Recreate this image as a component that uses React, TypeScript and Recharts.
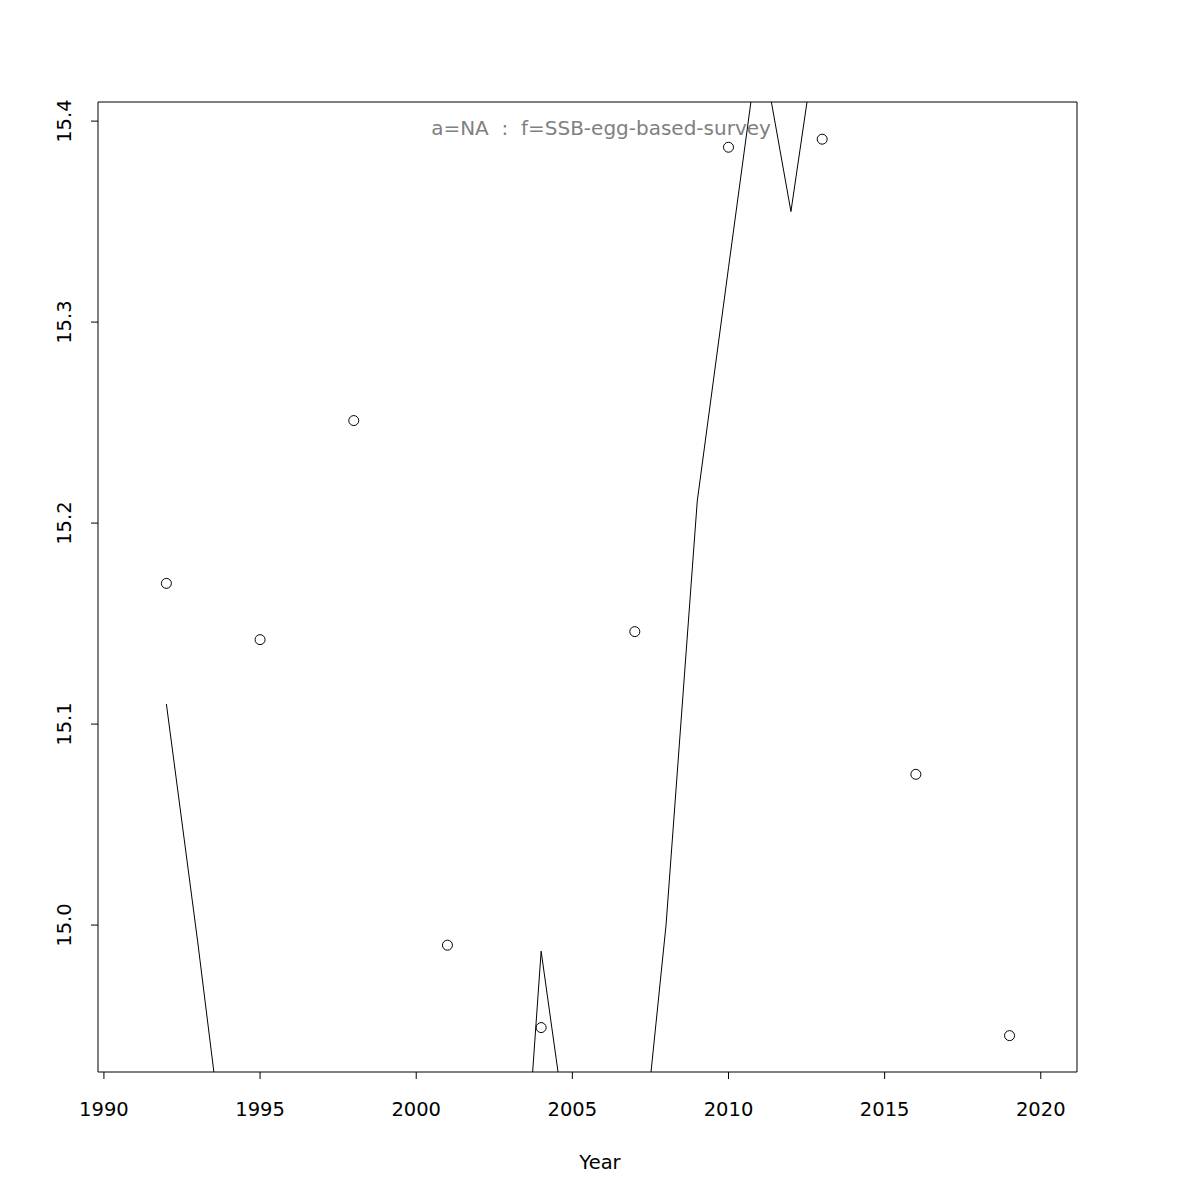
import React from 'react';
import { ComposedChart, Line, Scatter, XAxis, YAxis, ReferenceArea } from 'recharts';

// fitted line, years with no value in view are left out (null)
const fitYears = [1991, 1992, 1993, 1994, 1995, 1996, 1997, 1998, 1999, 2000, 2001, 2002, 2003, 2004, 2005, 2006, 2007, 2008, 2009, 2010, 2011, 2012, 2013, 2014];
const fitValues = [null, 15.11, 14.992, 14.867, 14.8, 14.76, 14.74, 14.75, 14.78, 14.8, 14.79, 14.77, 14.766, 14.987, 14.876, 14.8, 14.848, 15.0, 15.211, 15.327, 15.442, 15.355, 15.461, null];

// observed survey index
const obsYears = [1992, 1995, 1998, 2001, 2004, 2007, 2010, 2013, 2016, 2019];
const obsValues = [15.17, 15.142, 15.251, 14.99, 14.949, 15.146, 15.387, 15.391, 15.075, 14.945];

const xTicks = [1990, 1995, 2000, 2005, 2010, 2015, 2020];
const yTicks = [15.0, 15.1, 15.2, 15.3, 15.4];

const X_DOMAIN: [number, number] = [1989.81, 2021.16];
const Y_DOMAIN: [number, number] = [14.9269, 15.4095];

const FONT = '"DejaVu Sans", sans-serif';
const FS = 19.5;

const lineData = fitYears.map((year, i) => ({ year, fit: fitValues[i] }));
const pointData = obsYears.map((year, i) => ({ year, obs: obsValues[i] }));

function YTick({ y, payload }: any) {
  return (
    <text
      transform={`translate(71,${y}) rotate(-90)`}
      textAnchor="middle"
      fontSize={FS}
      fontFamily={FONT}
      fill="#000"
    >
      {payload.value.toFixed(1)}
    </text>
  );
}

function OpenCircle({ cx, cy }: any) {
  return <circle cx={cx} cy={cy} r={5} fill="none" stroke="#000" strokeWidth={1} />;
}

export default function App() {
  return (
    <div style={{ position: 'absolute', left: 0, top: 0, background: '#fff' }}>
      <ComposedChart
        width={1200}
        height={1200}
        data={lineData}
        margin={{ top: 102, right: 123, bottom: 68, left: 38 }}
        style={{ fontFamily: FONT }}
      >
        <XAxis
          dataKey="year"
          type="number"
          domain={X_DOMAIN}
          ticks={xTicks}
          allowDataOverflow
          height={60}
          axisLine={false}
          tickLine={{ stroke: '#000' }}
          tickSize={7}
          tickMargin={23}
          tick={{ fill: '#000', fontSize: FS, fontFamily: FONT }}
        />
        <YAxis
          type="number"
          domain={Y_DOMAIN}
          ticks={yTicks}
          allowDataOverflow
          width={60}
          axisLine={false}
          tickLine={{ stroke: '#000' }}
          tickSize={7}
          tick={<YTick />}
        />
        <ReferenceArea
          x1={X_DOMAIN[0]}
          x2={X_DOMAIN[1]}
          y1={Y_DOMAIN[0]}
          y2={Y_DOMAIN[1]}
          fill="none"
          stroke="#000"
          strokeWidth={1}
          ifOverflow="visible"
        />
        <Line
          dataKey="fit"
          stroke="#000"
          strokeWidth={1}
          dot={false}
          activeDot={false}
          connectNulls={false}
          isAnimationActive={false}
        />
        <Scatter data={pointData} dataKey="obs" shape={<OpenCircle />} isAnimationActive={false} />
        <text x={601} y={135} textAnchor="middle" fontSize={20} fontFamily={FONT} fill="#808080">
          {'a=NA\u00a0\u00a0:\u00a0\u00a0f=SSB-egg-based-survey'}
        </text>
        <text x={600} y={1169} textAnchor="middle" fontSize={FS} fontFamily={FONT} fill="#000">
          Year
        </text>
      </ComposedChart>
    </div>
  );
}
